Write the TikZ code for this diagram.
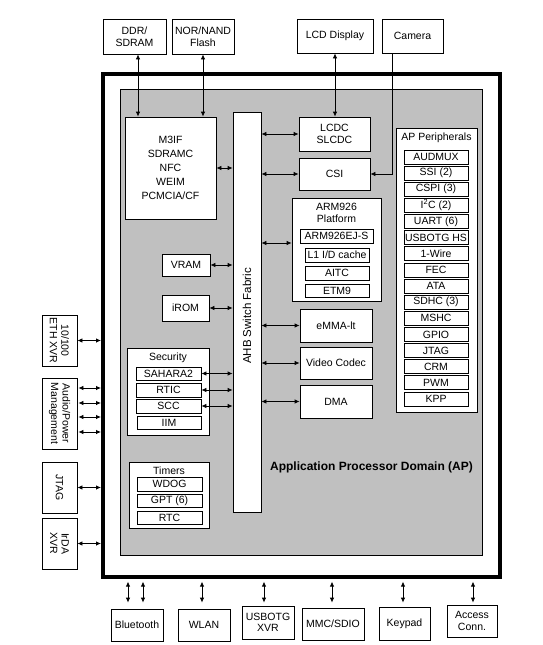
\documentclass[tikz,border=0pt]{standalone}
\usepackage{fontspec}
\setmainfont{Liberation Sans}
\usetikzlibrary{arrows.meta,calc}
\definecolor{apgray}{RGB}{192,192,192}
\newcommand\fs{\fontsize{10.5}{11.5}\selectfont}
\newcommand\mybox[7][]{\node[box,minimum width={((#4)-(#2))*1pt},minimum height={((#5)-(#3))*1pt},#1] (#6) at ({((#2)+(#4))/2},{((#3)+(#5))/2}) {#7};}
\begin{document}
\begin{tikzpicture}[x=1pt,y=-1pt,
  box/.style={draw,fill=white,line width=0.8pt,inner sep=0pt,align=center,font=\fs},
  lbl/.style={inner sep=0pt,align=center,font=\fs},
  arr/.style={{Latex[length=5pt,width=4.5pt]}-{Latex[length=5pt,width=4.5pt]},line width=0.8pt},
  onearr/.style={-{Latex[length=5pt,width=4.5pt]},line width=0.8pt}]
\useasboundingbox (0,0) rectangle (542,645);

% outer frame and AP domain
\mybox[line width=4pt]{103}{74}{500}{577}{frame}{}
\mybox[fill=apgray,line width=0.6pt]{120}{89}{482}{555}{ap}{}
\node[lbl,font=\fontsize{12}{13}\selectfont\bfseries] (aptitle) at (371.5,467) {Application Processor Domain (AP)};

% top external boxes
\mybox{103}{19}{166}{54}{ddr}{DDR/\\SDRAM}
\mybox{172}{19}{234}{54}{nor}{NOR/NAND\\Flash}
\mybox{297}{19}{373}{53}{lcd}{LCD Display}
\mybox{382}{19}{443}{53}{cam}{Camera}

% memory interface
\mybox[font=\fontsize{10.5}{14}\selectfont]{125}{117}{216}{219}{m3if}{M3IF\\SDRAMC\\NFC\\WEIM\\PCMCIA/CF}

% AHB bar
\mybox{233}{112}{261}{512}{ahb}{}
\node[lbl,rotate=90,font=\fontsize{11.5}{12}\selectfont] (ahbt) at (247,316) {AHB Switch Fabric};

% right of AHB
\mybox{299}{117}{370}{151}{lcdc}{LCDC\\SLCDC}
\mybox{299}{158}{370}{190}{csi}{CSI}
\mybox{292}{198}{381}{301}{arm}{}
\node[lbl] (armt) at (336.5,213) {ARM926\\Platform};
\mybox{300}{229}{373}{243}{arm9}{ARM926EJ-S}
\mybox{305}{248}{369}{262}{lone}{L1 I/D cache}
\mybox{305}{266}{369}{280}{aitc}{AITC}
\mybox{305}{284}{369}{297}{etm}{ETM9}
\mybox{300}{309}{372}{342}{emma}{eMMA-lt}
\mybox{300}{347}{372}{379}{vc}{Video Codec}
\mybox{300}{385}{372}{418}{dma}{DMA}

% left of AHB
\mybox{162}{254}{210}{276}{vram}{VRAM}
\mybox{162}{295}{209}{321}{irom}{iROM}
\mybox{127}{348}{209}{435}{sec}{}
\node[lbl] (sect) at (168,358) {Security};
\mybox{136}{367}{201}{380}{sah}{SAHARA2}
\mybox{136}{383}{201}{397}{rtic}{RTIC}
\mybox{136}{399}{201}{413}{scc}{SCC}
\mybox{137}{416}{201}{429}{iim}{IIM}
\mybox{129}{462}{209}{528}{tim}{}
\node[lbl] (timt) at (169,471) {Timers};
\mybox{137}{477}{202}{491}{wdog}{WDOG}
\mybox{137}{494}{202}{507}{gpt}{GPT (6)}
\mybox{137}{511}{202}{524}{rtc}{RTC}

% AP peripherals
\mybox{396}{128}{477}{412}{app}{}
\node[lbl] (appt) at (436.5,138) {AP Peripherals};
\foreach [count=\i from 0] \t in {AUDMUX,SSI (2),CSPI (3),{I\textsuperscript{2}C (2)},UART (6),USBOTG HS,1-Wire,FEC,ATA,SDHC (3),MSHC,GPIO,JTAG,CRM,PWM,KPP}{
  \mybox{404}{150+16.13*\i}{468}{164+16.13*\i}{p\i}{\t}
}

% left external boxes
\mybox{42}{315}{77}{366}{eth}{}
\node[lbl,rotate=-90] (etht) at (eth) {10/100\\ETH XVR};
\mybox{42}{378}{77}{449}{aud}{}
\node[lbl,rotate=-90] (audt) at (aud) {Audio/Power\\Management};
\mybox{42}{462}{77}{513}{jtag}{}
\node[lbl,rotate=-90] (jtagt) at (jtag) {JTAG};
\mybox{42}{518}{77}{569}{irda}{}
\node[lbl,rotate=-90] (irdat) at (irda) {IrDA\\XVR};

% bottom external boxes
\mybox{111}{609}{163}{641}{bt}{Bluetooth}
\mybox{178}{609}{230}{641}{wlan}{WLAN}
\mybox{242}{606}{294}{639}{usb}{USBOTG\\XVR}
\mybox{302}{608}{364}{640}{mmc}{MMC/SDIO}
\mybox{379}{607}{430}{640}{key}{Keypad}
\mybox{447}{605}{497}{637}{acc}{Access\\Conn.}

% top connectors
\draw[arr] ($(ddr.south)+(3.5,0)$) -- ($(ddr.south |- m3if.north)+(3.5,0)$);
\draw[arr] (nor.south) -- (nor.south |- m3if.north);
\draw[arr] (lcd.south) -- (lcd.south |- lcdc.north);
\draw[onearr] ($(cam.south)+(-20.5,0)$) |- (csi.east);

% AHB connectors
\draw[arr] (m3if.east) -- (m3if.east -| ahb.west);
\draw[arr] (vram.east) -- (vram.east -| ahb.west);
\draw[arr] (irom.east) -- (irom.east -| ahb.west);
\draw[arr] (sah.east) -- (sah.east -| ahb.west);
\draw[arr] (rtic.east) -- (rtic.east -| ahb.west);
\draw[arr] (scc.east) -- (scc.east -| ahb.west);
\draw[arr] (ahb.east |- lcdc.west) -- (lcdc.west);
\draw[arr] (ahb.east |- csi.west) -- (csi.west);
\draw[arr] ($(ahb.east |- arm.west)+(0,-6.5)$) -- ($(arm.west)+(0,-6.5)$);
\draw[arr] (ahb.east |- emma.west) -- (emma.west);
\draw[arr] (ahb.east |- vc.west) -- (vc.west);
\draw[arr] (ahb.east |- dma.west) -- (dma.west);

% left connectors
\draw[arr] (eth.east) -- (eth.east -| frame.west);
\foreach \d in {-25.5,-10.5,3.5,18.5}
  \draw[arr] ($(aud.east)+(1,\d)$) -- ($(aud.east -| frame.west)+(0,\d)$);
\draw[arr] (jtag.east) -- (jtag.east -| frame.west);
\draw[arr] (irda.east) -- (irda.east -| frame.west);

% bottom connectors
\draw[arr] ($(bt.north)+(-9,-27)$) -- ($(bt.north)+(-9,-6)$);
\draw[arr] ($(bt.north)+(6,-27)$) -- ($(bt.north)+(6,-6)$);
\draw[arr] ($(wlan.north)+(-2,-27)$) -- ($(wlan.north)+(-2,-6)$);
\draw[arr] ($(usb.north)+(-4,-24)$) -- ($(usb.north)+(-4,-3)$);
\draw[arr] ($(mmc.north)+(-1,-26)$) -- ($(mmc.north)+(-1,-5)$);
\draw[arr] ($(key.north)+(-1.5,-25)$) -- ($(key.north)+(-1.5,-4)$);
\draw[arr] ($(acc.north)+(1,-23)$) -- ($(acc.north)+(1,-2)$);
\end{tikzpicture}
\end{document}
